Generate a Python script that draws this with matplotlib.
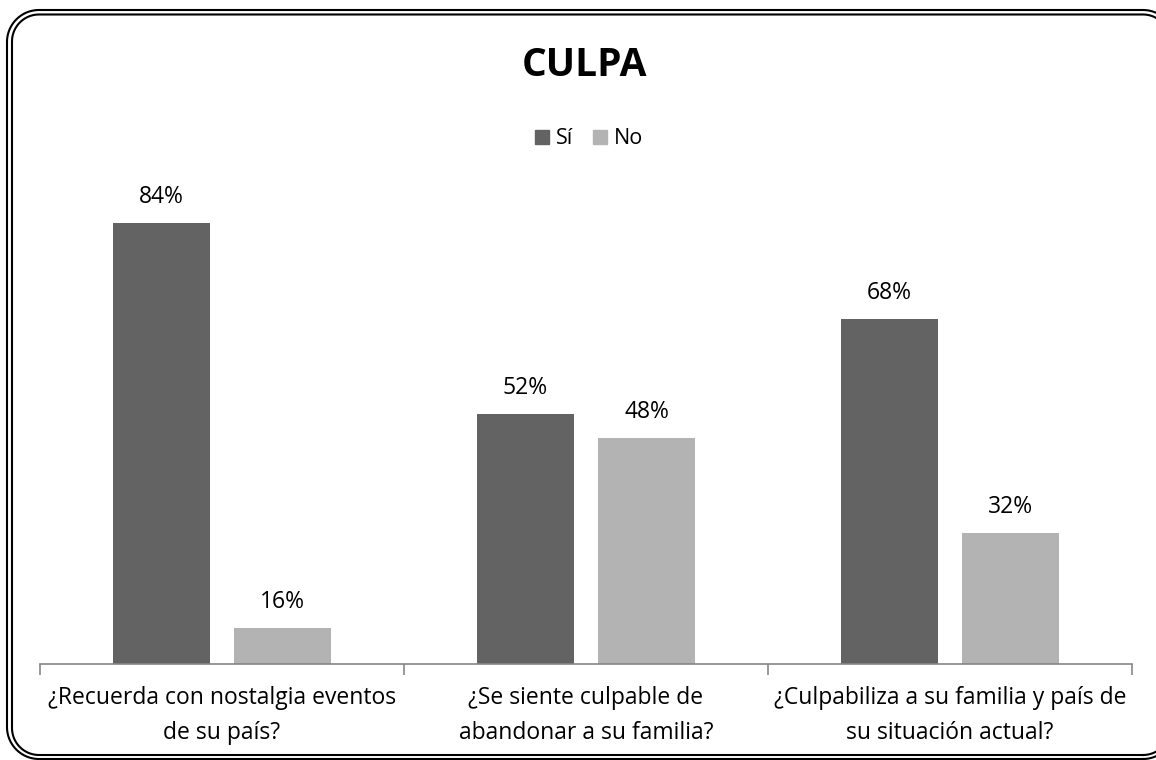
import matplotlib
matplotlib.use('Agg')
import matplotlib.pyplot as plt
import numpy as np
from matplotlib.patches import Patch

plt.rcParams['font.family'] = ['Open Sans', 'DejaVu Sans']

# Data
categories = ['¿Recuerda con nostalgia eventos\nde su país?',
              '¿Se siente culpable de\nabandonar a su familia?',
              '¿Culpabiliza a su familia y país de\nsu situación actual?']
si_values = [84, 52, 68]
no_values = [16, 48, 32]
series_names = ['Sí', 'No']
colors = ['#636363', '#b3b3b3']


def rounded_rect(x0, y0, x1, y1, r, n=30):
    # corner arcs as a polyline, counter-clockwise from bottom-right
    pts = []
    for cx, cy, a0 in [(x1 - r, y0 + r, -90), (x1 - r, y1 - r, 0),
                       (x0 + r, y1 - r, 90), (x0 + r, y0 + r, 180)]:
        t = np.radians(np.linspace(a0, a0 + 90, n))
        pts.append(np.column_stack([cx + r * np.cos(t), cy + r * np.sin(t)]))
    pts = np.vstack(pts + [pts[0][:1]])
    return pts[:, 0], pts[:, 1]


fig = plt.figure(figsize=(11.56, 7.6), dpi=100)

# Double rounded frame on a full-figure overlay in pixel units
frame_ax = fig.add_axes([0, 0, 1, 1], zorder=-1)
frame_ax.set_xlim(0, 1156)
frame_ax.set_ylim(0, 760)
frame_ax.axis('off')
for box in [(7, 1, 1175, 750, 32), (12, 5, 1170, 745.5, 27)]:
    fx, fy = rounded_rect(*box)
    frame_ax.plot(fx, fy, color='black', lw=1.5)

ax = fig.add_axes([40 / 1156, 96 / 760, 1092 / 1156, 476.5 / 760])

x = np.arange(len(categories))
width = 0.267
offset = 0.1665

bars_si = ax.bar(x - offset, si_values, width, color=colors[0])
bars_no = ax.bar(x + offset, no_values, width, color=colors[1])

# Value labels above bars
for bars, vals in [(bars_si, si_values), (bars_no, no_values)]:
    for bar, v in zip(bars, vals):
        ax.annotate(f'{v}%', (bar.get_x() + bar.get_width() / 2, v),
                    xytext=(0, 10), textcoords='offset points',
                    ha='center', va='bottom', fontsize=16.5, color='black')

ax.set_xlim(-0.5, 2.5)
ax.set_ylim(10, 90)
ax.set_yticks([])
ax.patch.set_visible(False)

# Tick marks at category boundaries, labels at centers
ax.set_xticks([-0.5, 0.5, 1.5, 2.5])
ax.set_xticklabels([])
ax.tick_params(axis='x', which='major', length=8, width=1.2, color='#868686')
ax.set_xticks(x, minor=True)
ax.set_xticklabels(categories, minor=True, fontsize=16.5, linespacing=1.6)
ax.tick_params(axis='x', which='minor', length=0, pad=16)

for s in ['left', 'top', 'right']:
    ax.spines[s].set_visible(False)
ax.spines['bottom'].set_color('#868686')
ax.spines['bottom'].set_linewidth(1.2)

# Title and legend
fig.text(585 / 1156, 1 - 66 / 760, 'CULPA', ha='center', va='center',
         fontsize=28, fontweight='bold')
handles = [Patch(color=c, label=n) for c, n in zip(colors, series_names)]
fig.legend(handles=handles, loc='center', bbox_to_anchor=(589 / 1156, 1 - 139 / 760),
           ncol=2, frameon=False, fontsize=15.5, handlelength=0.65, handleheight=0.65,
           handletextpad=0.35, columnspacing=0.9)

fig.savefig('out.png', dpi=100)
